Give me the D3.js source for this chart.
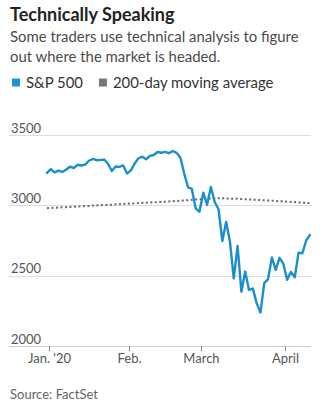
<!DOCTYPE html>
<html>
<head>
<meta charset="utf-8">
<script src="https://cdn.jsdelivr.net/npm/d3@7"></script>
<style>
  html, body { margin: 0; padding: 0; background: #fff; }
  svg { display: block; }
  text { font-family: Lato, "Noto Sans", sans-serif; }
</style>
</head>
<body>
<svg id="chart" width="327" height="408"></svg>
<script>
// Trading days, Dec 31 2019 – Apr 9 2020
const dates = [
  "2019-12-31",
  "2020-01-02","2020-01-03","2020-01-06","2020-01-07","2020-01-08","2020-01-09","2020-01-10",
  "2020-01-13","2020-01-14","2020-01-15","2020-01-16","2020-01-17","2020-01-21","2020-01-22",
  "2020-01-23","2020-01-24","2020-01-27","2020-01-28","2020-01-29","2020-01-30","2020-01-31",
  "2020-02-03","2020-02-04","2020-02-05","2020-02-06","2020-02-07","2020-02-10","2020-02-11",
  "2020-02-12","2020-02-13","2020-02-14","2020-02-18","2020-02-19","2020-02-20","2020-02-21",
  "2020-02-24","2020-02-25","2020-02-26","2020-02-27","2020-02-28",
  "2020-03-02","2020-03-03","2020-03-04","2020-03-05","2020-03-06","2020-03-09","2020-03-10",
  "2020-03-11","2020-03-12","2020-03-13","2020-03-16","2020-03-17","2020-03-18","2020-03-19",
  "2020-03-20","2020-03-23","2020-03-24","2020-03-25","2020-03-26","2020-03-27","2020-03-30",
  "2020-03-31",
  "2020-04-01","2020-04-02","2020-04-03","2020-04-06","2020-04-07","2020-04-08","2020-04-09"
];

const sp500 = [
  3230.78,
  3257.85, 3234.85, 3246.28, 3237.18, 3253.05, 3274.70, 3265.35,
  3288.13, 3283.15, 3289.29, 3316.81, 3329.62, 3320.79, 3321.75,
  3325.54, 3295.47, 3243.63, 3276.24, 3273.40, 3283.66, 3225.52,
  3248.92, 3297.59, 3334.69, 3345.78, 3327.71, 3352.09, 3357.75,
  3379.45, 3373.94, 3380.16, 3370.29, 3386.15, 3373.23, 3337.75,
  3225.89, 3128.21, 3116.39, 2978.76, 2954.22,
  3090.23, 3003.37, 3130.12, 3023.94, 2972.37, 2746.56, 2882.23,
  2741.38, 2480.64, 2711.02, 2386.13, 2529.19, 2398.10, 2409.39,
  2304.92, 2237.40, 2447.33, 2475.56, 2630.07, 2541.47, 2626.65,
  2584.59,
  2470.50, 2526.90, 2488.65, 2663.68, 2659.41, 2749.98, 2789.82
];

const movingAvg200 = [
  2980,
  2981, 2983, 2984, 2986, 2987, 2989, 2990,
  2992, 2993, 2995, 2996, 2998, 2999, 3001,
  3002, 3004, 3005, 3007, 3008, 3010, 3011,
  3013, 3014, 3016, 3017, 3019, 3020, 3022,
  3023, 3025, 3026, 3028, 3029, 3031, 3033,
  3035, 3037, 3039, 3041, 3043,
  3045, 3047, 3049, 3050, 3050, 3050, 3049,
  3048, 3047, 3046, 3045, 3043, 3042, 3040,
  3039, 3037, 3036, 3034, 3033, 3031, 3029,
  3028,
  3026, 3024, 3023, 3021, 3019, 3017, 3015
];

const yTicks = [2000, 2500, 3000, 3500];
const monthTicks = [
  { first: "2020-01-02", label: "Jan. '20" },
  { first: "2020-02-03", label: "Feb." },
  { first: "2020-03-02", label: "March" },
  { first: "2020-04-01", label: "April" }
];
const legendItems = [
  { label: "S&P 500", color: "#1a93cf" },
  { label: "200-day moving average", color: "#777777" }
];

const svg = d3.select("#chart");

// Header
svg.append("text").attr("x", 10).attr("y", 21)
  .attr("font-size", 18).attr("font-weight", 700).attr("fill", "#222")
  .text("Technically Speaking");
svg.append("text").attr("x", 10).attr("y", 42)
  .attr("font-size", 14.9).attr("fill", "#4a4a4a")
  .text("Some traders use technical analysis to figure");
svg.append("text").attr("x", 10).attr("y", 62)
  .attr("font-size", 14.9).attr("fill", "#4a4a4a")
  .text("out where the market is headed.");

// Legend
let lx = 12;
legendItems.forEach(it => {
  svg.append("rect").attr("x", lx).attr("y", 78.5).attr("width", 8).attr("height", 8).attr("fill", it.color);
  const t = svg.append("text").attr("x", lx + 14).attr("y", 88)
    .attr("font-size", 14.9).attr("fill", "#333").text(it.label);
  lx += 14 + t.node().getComputedTextLength() + 16;
});

// Scales
const x = d3.scaleLinear().domain([0, dates.length - 1]).range([47, 310]);
const y = d3.scaleLinear().domain([2000, 3500]).range([346, 135]);

// Grid
const grid = svg.append("g");
yTicks.forEach(v => {
  grid.append("line").attr("x1", 9).attr("x2", 311)
    .attr("y1", Math.round(y(v)) + 0.5).attr("y2", Math.round(y(v)) + 0.5)
    .attr("stroke", v === 2000 ? "#cccccc" : "#dddddd").attr("stroke-width", 1);
  grid.append("text").attr("x", 11).attr("y", y(v) - 2.5)
    .attr("font-size", 13).attr("fill", "#555").text(d3.format("d")(v));
});

// X axis ticks at month boundaries
const xAxis = svg.append("g");
monthTicks.forEach(m => {
  const i = dates.indexOf(m.first) - 0.5;
  const px = Math.round(x(i)) + 0.5;
  xAxis.append("line").attr("x1", px).attr("x2", px)
    .attr("y1", 346).attr("y2", 351).attr("stroke", "#888").attr("stroke-width", 1);
  xAxis.append("text").attr("x", px).attr("y", 363).attr("text-anchor", "middle")
    .attr("font-size", 13).attr("fill", "#555").text(m.label);
});

// Moving average (dotted)
const line = d3.line().x((d, i) => x(i)).y(d => y(d));
svg.append("path").datum(movingAvg200)
  .attr("d", line).attr("fill", "none")
  .attr("stroke", "#666").attr("stroke-width", 2)
  .attr("stroke-dasharray", "2,2.5");

// S&P 500
svg.append("path").datum(sp500)
  .attr("d", line).attr("fill", "none")
  .attr("stroke", "#1a8fcc").attr("stroke-width", 2.4)
  .attr("stroke-linejoin", "round").attr("stroke-linecap", "round");

// Source
svg.append("text").attr("x", 10).attr("y", 399)
  .attr("font-size", 13).attr("fill", "#666").text("Source: FactSet");
</script>
</body>
</html>
